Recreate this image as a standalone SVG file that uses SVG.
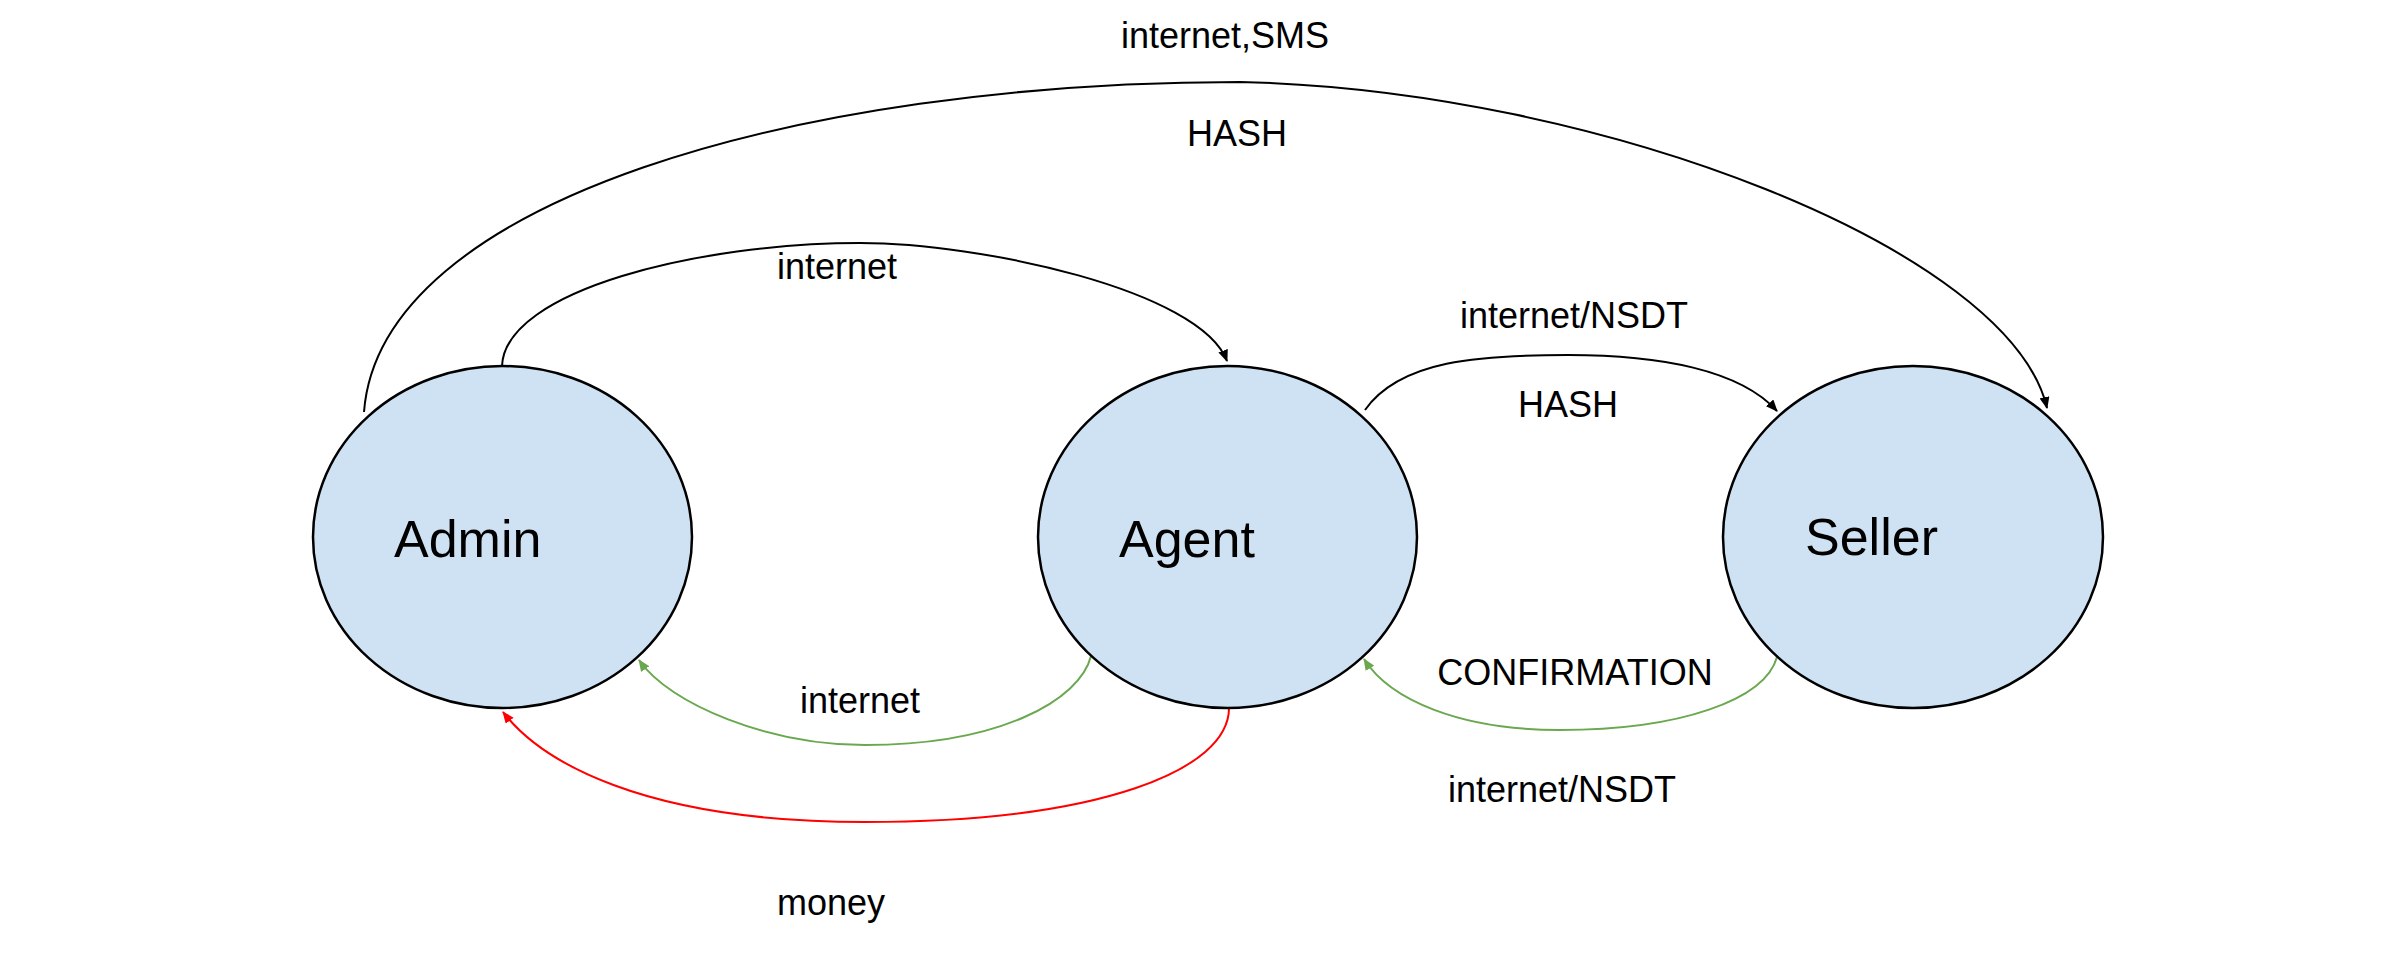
<svg xmlns="http://www.w3.org/2000/svg" width="2388" height="980" viewBox="0 0 2388 980">
<style>
.node{fill:#cfe2f3;stroke:#000;stroke-width:2.5}
.nlabel{font-family:"Liberation Sans",Arial,sans-serif;font-size:52px;fill:#000}
.elabel{font-family:"Liberation Sans",Arial,sans-serif;font-size:36px;fill:#000;text-anchor:middle}
.edge{fill:none;stroke-width:2}
.blk{stroke:#000}
.grn{stroke:#6aa84f}
.red{stroke:#ff0000}
</style>
<defs>
<marker id="ab" markerUnits="userSpaceOnUse" markerWidth="12" markerHeight="10" refX="11" refY="5" orient="auto"><path d="M0,0 L12,5 L0,10 z" fill="#000"/></marker>
<marker id="ag" markerUnits="userSpaceOnUse" markerWidth="12" markerHeight="10" refX="11" refY="5" orient="auto"><path d="M0,0 L12,5 L0,10 z" fill="#6aa84f"/></marker>
<marker id="ar" markerUnits="userSpaceOnUse" markerWidth="12" markerHeight="10" refX="11" refY="5" orient="auto"><path d="M0,0 L12,5 L0,10 z" fill="#ff0000"/></marker>
</defs>
<rect width="2388" height="980" fill="#fff"/>
<g id="connectors">
<path class="edge blk" d="M364 412 C380 200 800 82 1240 82 C1600 90 2010 250 2047 408" marker-end="url(#ab)"/>
<path class="edge blk" d="M502 366 C505 290 700 243 860 243 C980 243 1200 290 1227 361" marker-end="url(#ab)"/>
<path class="edge blk" d="M1365 410 C1400 360 1480 355 1568 355 C1660 355 1740 370 1777 411" marker-end="url(#ab)"/>
<path class="edge grn" d="M1091 656 C1080 700 1000 745 865 745 C770 745 670 705 639 660" marker-end="url(#ag)"/>
<path class="edge red" d="M1229 708 C1229 770 1100 822 865 822 C640 822 540 760 503 712" marker-end="url(#ar)"/>
<path class="edge grn" d="M1777 657 C1765 700 1680 730 1560 730 C1460 730 1390 700 1364 659" marker-end="url(#ag)"/>
<text class="elabel" x="1225" y="48">internet,SMS</text>
<text class="elabel" x="1237" y="146">HASH</text>
<text class="elabel" x="837" y="279">internet</text>
<text class="elabel" x="1574" y="328">internet/NSDT</text>
<text class="elabel" x="1568" y="417">HASH</text>
<text class="elabel" x="860" y="713">internet</text>
<text class="elabel" x="1575" y="685">CONFIRMATION</text>
<text class="elabel" x="1562" y="802">internet/NSDT</text>
<text class="elabel" x="831" y="915">money</text>
</g>
<g id="admin">
<ellipse class="node" cx="502.5" cy="537" rx="189.5" ry="171"/>
<text class="nlabel" x="394" y="557">Admin</text>
</g>
<g id="agent">
<ellipse class="node" cx="1227.5" cy="537" rx="189.5" ry="171"/>
<text class="nlabel" x="1119" y="557">Agent</text>
</g>
<g id="seller">
<ellipse class="node" cx="1913" cy="537" rx="190" ry="171"/>
<text class="nlabel" x="1805" y="555">Seller</text>
</g>
</svg>
